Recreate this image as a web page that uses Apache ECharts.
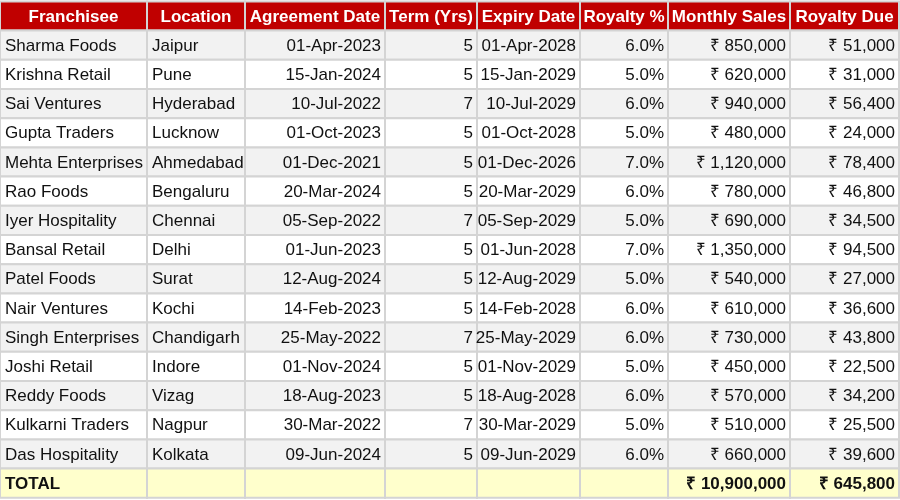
<!DOCTYPE html>
<html><head><meta charset="utf-8">
<script src="https://cdn.jsdelivr.net/npm/echarts@6/dist/echarts.min.js"></script>
<style>html,body{margin:0;padding:0;background:#fff}#c{width:900px;height:500px}</style>
</head><body><div id="c"></div>
<script>
const headers = ["Franchisee","Location","Agreement Date","Term (Yrs)","Expiry Date","Royalty %","Monthly Sales","Royalty Due"];
const franchisees = ["Sharma Foods","Krishna Retail","Sai Ventures","Gupta Traders","Mehta Enterprises","Rao Foods","Iyer Hospitality","Bansal Retail","Patel Foods","Nair Ventures","Singh Enterprises","Joshi Retail","Reddy Foods","Kulkarni Traders","Das Hospitality"];
const locations = ["Jaipur","Pune","Hyderabad","Lucknow","Ahmedabad","Bengaluru","Chennai","Delhi","Surat","Kochi","Chandigarh","Indore","Vizag","Nagpur","Kolkata"];
const agreementDates = ["01-Apr-2023","15-Jan-2024","10-Jul-2022","01-Oct-2023","01-Dec-2021","20-Mar-2024","05-Sep-2022","01-Jun-2023","12-Aug-2024","14-Feb-2023","25-May-2022","01-Nov-2024","18-Aug-2023","30-Mar-2022","09-Jun-2024"];
const terms = [5,5,7,5,5,5,7,5,5,5,7,5,5,7,5];
const expiryDates = ["01-Apr-2028","15-Jan-2029","10-Jul-2029","01-Oct-2028","01-Dec-2026","20-Mar-2029","05-Sep-2029","01-Jun-2028","12-Aug-2029","14-Feb-2028","25-May-2029","01-Nov-2029","18-Aug-2028","30-Mar-2029","09-Jun-2029"];
const royaltyPct = [6,5,6,5,7,6,5,7,5,6,6,5,6,5,6];
const monthlySales = [850000,620000,940000,480000,1120000,780000,690000,1350000,540000,610000,730000,450000,570000,510000,660000];
const royaltyDue = [51000,31000,56400,24000,78400,46800,34500,94500,27000,36600,43800,22500,34200,25500,39600];
const totalLabel = "TOTAL";
const totalSales = 10900000;
const totalRoyalty = 645800;

const colEdges = [0,147,245,385,477,580,668,790,899];
const rowH = 29.2, firstCenter = 16;
const rupee = v => "₹ " + v.toLocaleString("en-US");

const cells = [];
headers.forEach((h,c)=>cells.push([c,0,h,'head']));
franchisees.forEach((f,i)=>{
  const r=i+1, k = i%2===0?'odd':'even';
  const vals=[f,locations[i],agreementDates[i],String(terms[i]),expiryDates[i],royaltyPct[i].toFixed(1)+"%",rupee(monthlySales[i]),rupee(royaltyDue[i])];
  vals.forEach((v,c)=>cells.push([c,r,v,k]));
});
const tr = franchisees.length+1;
[totalLabel,"","","","","",rupee(totalSales),rupee(totalRoyalty)].forEach((v,c)=>cells.push([c,tr,v,'total']));

const fills={head:'#c00000',odd:'#f2f2f2',even:'#ffffff',total:'#ffffcc'};
const chart = echarts.init(document.getElementById('c'));
chart.setOption({
  animation:false,
  grid:{left:0,right:0,top:0,bottom:0},
  xAxis:{type:'value',min:0,max:900,show:false},
  yAxis:{type:'value',min:0,max:500,inverse:true,show:false},
  series:[{
    type:'custom',
    data:cells,
    renderItem:function(params,api){
      const c=api.value(0), r=api.value(1), d=cells[params.dataIndex], kind=d[3];
      const yc=firstCenter+r*rowH;
      const p0=api.coord([colEdges[c], yc-rowH/2]);
      const p1=api.coord([colEdges[c+1], yc+rowH/2]);
      const w=p1[0]-p0[0], h=p1[1]-p0[1];
      const head=kind==='head', bold=head||kind==='total';
      let align, tx;
      if(head){align='center';tx=p0[0]+w/2;}
      else if(c<2){align='left';tx=p0[0]+5;}
      else {align='right';tx=p1[0]-4;}
      return {type:'group',children:[
        {type:'rect',shape:{x:p0[0],y:p0[1],width:w,height:h},style:{fill:fills[kind],stroke:'#d4d4d4',lineWidth:2}},
        {type:'text',style:{x:tx,y:p0[1]+h/2+1,text:d[2],textAlign:align,textVerticalAlign:'middle',
          fill:head?'#ffffff':'#111111',font:(bold?'bold ':'')+'17px "Liberation Sans Narrow", "Arial Narrow", sans-serif'}}
      ]};
    }
  }]
});
</script></body></html>
